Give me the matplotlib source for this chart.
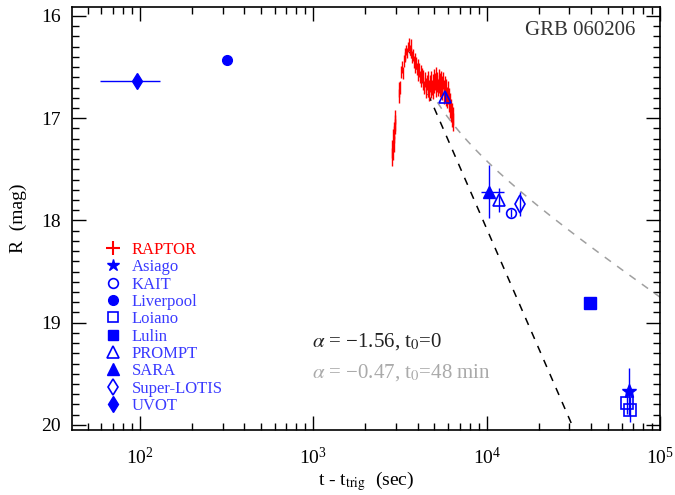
import numpy as np
import matplotlib
matplotlib.use("Agg")
import matplotlib.pyplot as plt
from matplotlib.lines import Line2D
from matplotlib.ticker import LogLocator, MultipleLocator, LogFormatterMathtext

plt.rcParams['font.family'] = ['Liberation Serif', 'DejaVu Serif']
plt.rcParams['mathtext.fontset'] = 'stix'

# RAPTOR light curve (sec, mag, err)
raptor_t = [2840, 2860, 2875, 2890, 2905, 2920, 2935, 2950, 2965, 2980,
            3110, 3140, 3170, 3220, 3250, 3280, 3320, 3360, 3400, 3440,
            3480, 3520, 3560, 3600, 3640, 3680, 3720, 3760, 3800, 3840,
            3880, 3920, 3960, 4000, 4040, 4080, 4120, 4160, 4200, 4240,
            4280, 4320, 4360, 4400, 4440, 4480, 4520, 4560, 4600, 4640,
            4680, 4720, 4760, 4800, 4840, 4880, 4920, 4960, 5000, 5040,
            5080, 5120, 5160, 5200, 5240, 5280, 5320, 5360, 5400, 5440,
            5480, 5520, 5560, 5600, 5640, 5680, 5720, 5760, 5800, 5840,
            5880, 5920, 5960, 6000, 6040, 6080, 6120, 6160, 6200, 6240,
            6280, 6320, 6360, 6400]
raptor_mag = [17.38, 17.30, 17.33, 17.20, 17.25, 17.12, 17.16, 17.05, 17.08, 16.99,
              16.78, 16.72, 16.70, 16.55, 16.50, 16.56, 16.44, 16.40, 16.37, 16.33,
              16.36, 16.30, 16.28, 16.33, 16.29, 16.36, 16.40, 16.38, 16.45, 16.42,
              16.50, 16.46, 16.52, 16.49, 16.58, 16.53, 16.60, 16.55, 16.63, 16.58,
              16.66, 16.60, 16.70, 16.62, 16.68, 16.74, 16.65, 16.72, 16.62, 16.70,
              16.76, 16.66, 16.73, 16.62, 16.70, 16.65, 16.74, 16.60, 16.68, 16.64,
              16.72, 16.58, 16.66, 16.62, 16.70, 16.60, 16.68, 16.64, 16.72, 16.62,
              16.70, 16.66, 16.74, 16.63, 16.70, 16.78, 16.67, 16.74, 16.80, 16.70,
              16.76, 16.82, 16.72, 16.78, 16.86, 16.78, 16.92, 16.84, 16.96, 16.90,
              17.00, 16.94, 17.04, 16.98]
raptor_err = [0.09, 0.09, 0.08, 0.09, 0.08, 0.08, 0.08, 0.08, 0.07, 0.07,
              0.07, 0.07, 0.06, 0.06, 0.06, 0.06, 0.06, 0.05, 0.06, 0.05,
              0.05, 0.05, 0.06, 0.05, 0.06, 0.05, 0.06, 0.06, 0.06, 0.06,
              0.06, 0.06, 0.06, 0.07, 0.06, 0.07, 0.06, 0.07, 0.06, 0.07,
              0.06, 0.07, 0.06, 0.07, 0.07, 0.06, 0.07, 0.07, 0.08, 0.07,
              0.07, 0.08, 0.07, 0.08, 0.07, 0.08, 0.07, 0.08, 0.07, 0.08,
              0.07, 0.08, 0.08, 0.07, 0.08, 0.08, 0.07, 0.08, 0.07, 0.08,
              0.08, 0.07, 0.08, 0.08, 0.07, 0.08, 0.08, 0.07, 0.08, 0.08,
              0.07, 0.08, 0.08, 0.08, 0.08, 0.08, 0.08, 0.09, 0.08, 0.09,
              0.09, 0.09, 0.09, 0.09]

# other telescopes
uvot_t, uvot_mag, uvot_tlo, uvot_thi = [96], [16.64], [59], [130]
liverpool_t, liverpool_mag = [316], [16.43]
prompt_t, prompt_mag, prompt_err = [5750, 11800], [16.79, 17.80], [0.05, 0.12]
sara_t, sara_mag, sara_err = [10280], [17.72], [0.26]
sara_tlo, sara_thi = [9250], [12540]
kait_t, kait_mag, kait_err = [13900], [17.93], [0.04]
slotis_t, slotis_mag, slotis_err = [15600], [17.84], [0.12]
lulin_t, lulin_mag = [39600], [18.81]
asiago_t, asiago_mag, asiago_err = [66500], [19.67], [0.23]
loiano_t, loiano_mag, loiano_err = [64800, 67500], [19.79, 19.85], [0.10, 0.12]

# power-law fits
fit1_alpha, fit1_t0, fit1_norm, fit1_start = 1.56, 0.0, 2.48, 3600
fit2_alpha, fit2_t0, fit2_norm, fit2_start = 0.47, 2880.0, 12.89, 5200

blue = '#0000ff'

fig = plt.figure(figsize=(6.75, 4.95), dpi=100)
ax = fig.add_axes([0.1067, 0.1313, 0.8711, 0.855])

tt = np.logspace(np.log10(fit1_start), np.log10(4e4), 200)
ax.plot(tt, fit1_norm + 2.5 * fit1_alpha * np.log10(tt - fit1_t0), color='black',
        lw=1.1, dashes=(5, 5))
tt = np.logspace(np.log10(fit2_start), 5.05, 200)
ax.plot(tt, fit2_norm + 2.5 * fit2_alpha * np.log10(tt - fit2_t0), color='#a0a0a0',
        lw=1.1, dashes=(5, 5))

ax.errorbar(raptor_t, raptor_mag, yerr=raptor_err, fmt='none', ecolor='red', elinewidth=1)

ax.errorbar(uvot_t, uvot_mag,
            xerr=[np.subtract(uvot_t, uvot_tlo), np.subtract(uvot_thi, uvot_t)],
            fmt='d', color=blue, ms=8, elinewidth=1)
ax.plot(liverpool_t, liverpool_mag, 'o', color=blue, ms=7)
ax.errorbar(prompt_t, prompt_mag, yerr=prompt_err, fmt='^', mfc='none', mec=blue,
            ecolor=blue, ms=9, mew=1.2, elinewidth=1)
ax.errorbar(sara_t, sara_mag, yerr=sara_err,
            xerr=[np.subtract(sara_t, sara_tlo), np.subtract(sara_thi, sara_t)],
            fmt='^', color=blue, ms=9, elinewidth=1)
ax.errorbar(kait_t, kait_mag, yerr=kait_err, fmt='o', mfc='none', mec=blue,
            ecolor=blue, ms=7, mew=1.2, elinewidth=1)
ax.errorbar(slotis_t, slotis_mag, yerr=slotis_err, fmt='d', mfc='none', mec=blue,
            ecolor=blue, ms=9, mew=1.2, elinewidth=1)
ax.plot(lulin_t, lulin_mag, 's', color=blue, ms=8)
ax.errorbar(loiano_t, loiano_mag, yerr=loiano_err, fmt='s', mfc='none', mec=blue,
            ecolor=blue, ms=8, mew=1.2, elinewidth=1)
ax.errorbar(asiago_t, asiago_mag, yerr=asiago_err, fmt='*', color=blue, ms=10, elinewidth=1)

ax.set_xscale('log')
ax.set_xlim(40.6, 1.0e5)
ax.set_ylim(20.05, 15.91)
ax.yaxis.set_major_locator(MultipleLocator(1))
ax.yaxis.set_minor_locator(MultipleLocator(0.1))
ax.xaxis.set_major_locator(LogLocator(base=10))
ax.xaxis.set_minor_locator(LogLocator(base=10, subs=np.arange(2, 10)))
ax.xaxis.set_major_formatter(LogFormatterMathtext())
ax.tick_params(which='both', direction='in', top=True, right=True, width=1,
               labelsize=14, colors='black')
ax.tick_params(which='major', length=10, pad=8)
ax.tick_params(axis='x', which='major', pad=12)
ax.tick_params(which='minor', length=5)
for s in ax.spines.values():
    s.set_linewidth(1.2)

ax.set_xlabel(r't - t$_{\rm trig}$  (sec)', fontsize=14, labelpad=1)
ax.set_ylabel('R  (mag)', fontsize=14, labelpad=10)

ax.text(0.958, 0.945, 'GRB 060206', transform=ax.transAxes, ha='right', va='center',
        fontsize=15, color='#333333')
ax.text(0.408, 0.208, r'$\alpha$ = −1.56, t$_0$=0', transform=ax.transAxes,
        ha='left', va='center', fontsize=15, color='#222222')
ax.text(0.408, 0.135, r'$\alpha$ = −0.47, t$_0$=48 min', transform=ax.transAxes,
        ha='left', va='center', fontsize=15, color='#aaaaaa')

labels = ['RAPTOR', 'Asiago', 'KAIT', 'Liverpool', 'Loiano', 'Lulin', 'PROMPT',
          'SARA', 'Super-LOTIS', 'UVOT']
handles = [
    Line2D([], [], ls='none', marker='+', color='red', ms=10, mew=1.5),
    Line2D([], [], ls='none', marker='*', color=blue, ms=9),
    Line2D([], [], ls='none', marker='o', mfc='none', mec=blue, ms=7, mew=1.2),
    Line2D([], [], ls='none', marker='o', color=blue, ms=7),
    Line2D([], [], ls='none', marker='s', mfc='none', mec=blue, ms=7, mew=1.2),
    Line2D([], [], ls='none', marker='s', color=blue, ms=7),
    Line2D([], [], ls='none', marker='^', mfc='none', mec=blue, ms=8, mew=1.2),
    Line2D([], [], ls='none', marker='^', color=blue, ms=8),
    Line2D([], [], ls='none', marker='d', mfc='none', mec=blue, ms=8, mew=1.2),
    Line2D([], [], ls='none', marker='d', color=blue, ms=8),
]
leg = ax.legend(handles, labels, loc='upper left', bbox_to_anchor=(0.045, 0.46),
                frameon=False, fontsize=12, handlelength=1.0, handletextpad=0.6,
                labelspacing=0.08, borderaxespad=0)
for i, txt in enumerate(leg.get_texts()):
    txt.set_color('red' if i == 0 else '#3a3aff')

fig.savefig('out.png', dpi=100)
